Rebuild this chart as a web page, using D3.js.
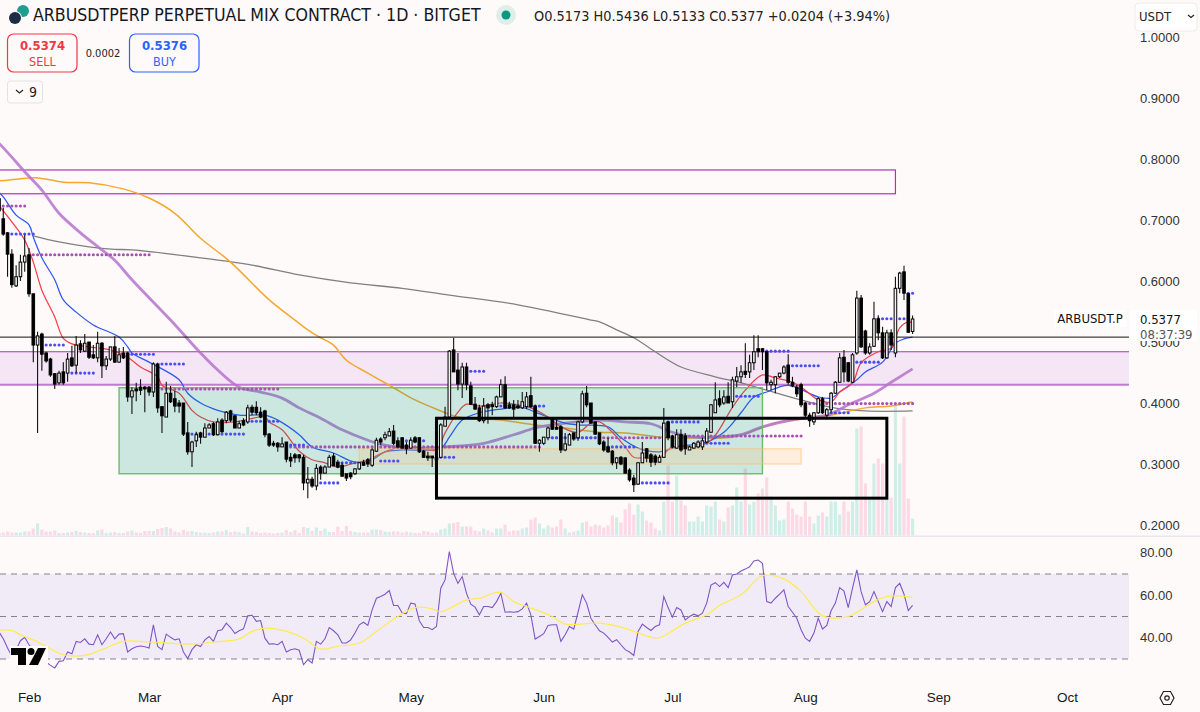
<!DOCTYPE html>
<html>
<head>
<meta charset="utf-8">
<script src="https://cdn.jsdelivr.net/npm/d3@7"></script>
<style>
    html, body { margin: 0; padding: 0; background: #fffafa; overflow: hidden; }
    svg { display: block; font-family: "DejaVu Sans Condensed", "DejaVu Sans", sans-serif; }
</style>
</head>
<body>
<svg id="chart" width="1200" height="712"></svg>
<script>
// daily candles, first one is 25 Jan 2025 (day -7, day 0 = 1 Feb)
const firstDay = -7;
const opens = [
    .735,.702,.679,.644,.592,.607,.631,.643,.579,.495,.513,.482,.472,.448,.433,.451,.449,.474,.462,.497,
    .485,.5,.479,.474,.498,.461,.472,.492,.467,.482,.482,.41,.423,.426,.426,.426,.418,.464,.394,.377,
    .416,.407,.4,.4,.351,.32,.338,.351,.344,.359,.366,.348,.372,.371,.387,.379,.359,.371,.369,.393,
    .393,.385,.387,.349,.334,.334,.328,.336,.311,.315,.315,.311,.269,.275,.264,.295,.285,.295,.313,.303,
    .298,.284,.285,.284,.292,.303,.307,.298,.321,.341,.343,.346,.354,.338,.343,.331,.326,.343,.343,.321,
    .313,.313,.31,.311,.362,.377,.487,.454,.431,.459,.428,.398,.392,.371,.397,.397,.394,.41,.43,.397,
    .397,.395,.392,.394,.412,.395,.334,.334,.343,.374,.36,.361,.323,.331,.351,.343,.369,.416,.4,.369,
    .351,.336,.328,.321,.302,.311,.31,.29,.277,.267,.302,.325,.315,.313,.303,.311,.369,.346,.326,.348,
    .346,.323,.326,.328,.328,.336,.352,.384,.407,.4,.411,.402,.436,.443,.452,.451,.466,.489,.489,.484,
    .43,.43,.443,.449,.462,.434,.426,.43,.4,.38,.369,.384,.407,.38,.389,.416,.434,.475,.466,.434,
    .482,.572,.518,.482,.493,.538,.515,.474,.515,.482,.588,.615,.579,.5173
];
const highs = [
    .74,.72,.68,.652,.626,.643,.676,.654,.579,.517,.515,.484,.474,.449,.453,.467,.482,.494,.51,.503,
    .513,.5,.495,.517,.5,.477,.492,.51,.49,.492,.484,.426,.433,.439,.428,.428,.467,.466,.394,.435,
    .428,.42,.405,.4,.369,.338,.353,.353,.367,.367,.369,.375,.375,.387,.389,.38,.371,.375,.397,.397,
    .403,.393,.389,.351,.338,.336,.344,.336,.318,.318,.316,.315,.295,.279,.3,.298,.298,.315,.318,.307,
    .302,.284,.287,.293,.303,.307,.31,.326,.343,.344,.353,.359,.364,.344,.344,.336,.344,.346,.344,.323,
    .32,.313,.315,.367,.394,.487,.507,.482,.466,.466,.435,.41,.397,.408,.4,.402,.412,.439,.444,.402,
    .405,.405,.418,.418,.443,.397,.341,.344,.361,.375,.375,.364,.351,.351,.351,.371,.42,.428,.4,.369,
    .351,.339,.343,.323,.311,.313,.311,.293,.282,.303,.336,.326,.318,.316,.315,.392,.369,.348,.357,.357,
    .351,.33,.336,.339,.343,.359,.398,.434,.421,.421,.434,.443,.459,.462,.498,.479,.511,.511,.49,.485,
    .438,.444,.449,.462,.48,.443,.43,.433,.402,.384,.385,.41,.41,.392,.418,.436,.482,.487,.467,.482,
    .584,.577,.52,.498,.566,.544,.525,.52,.521,.607,.615,.625,.58,.5436
];
const lows = [
    .70,.674,.607,.589,.59,.6,.615,.574,.467,.351,.453,.466,.443,.423,.43,.43,.435,.459,.449,.482,
    .484,.472,.472,.467,.441,.454,.469,.466,.466,.472,.402,.382,.403,.413,.385,.412,.41,.384,.351,.377,
    .4,.385,.384,.346,.315,.295,.328,.333,.344,.359,.346,.348,.351,.367,.369,.359,.359,.362,.366,.38,
    .38,.375,.344,.328,.328,.32,.328,.303,.295,.302,.303,.257,.244,.261,.257,.274,.285,.295,.297,.293,
    .279,.272,.275,.282,.29,.297,.295,.295,.32,.331,.339,.346,.331,.326,.326,.316,.326,.334,.318,.31,
    .305,.295,.305,.31,.362,.377,.451,.421,.408,.421,.397,.389,.369,.367,.366,.38,.392,.41,.39,.39,
    .377,.39,.39,.39,.392,.333,.32,.331,.339,.356,.357,.318,.321,.331,.338,.338,.367,.393,.367,.348,
    .331,.32,.318,.298,.292,.298,.285,.271,.254,.266,.302,.303,.295,.298,.302,.31,.339,.326,.325,.32,
    .315,.323,.325,.326,.323,.334,.352,.384,.393,.397,.4,.392,.426,.433,.441,.441,.454,.475,.454,.421,
    .421,.416,.441,.447,.43,.426,.41,.393,.377,.361,.364,.382,.382,.375,.384,.415,.433,.434,.434,.433,
    .479,.49,.479,.479,.492,.503,.472,.472,.487,.475,.58,.569,.515,.5133
];
const closes = [
    .715,.677,.644,.594,.607,.631,.641,.579,.495,.51,.48,.469,.446,.431,.449,.433,.472,.461,.495,.487,
    .498,.475,.474,.498,.461,.472,.492,.467,.479,.474,.41,.42,.42,.421,.423,.418,.464,.392,.379,.416,
    .402,.395,.395,.349,.32,.336,.348,.344,.359,.364,.348,.369,.353,.385,.372,.359,.366,.364,.392,.385,
    .384,.377,.348,.331,.331,.328,.333,.308,.305,.31,.31,.269,.275,.264,.293,.285,.295,.311,.297,.295,
    .28,.277,.279,.292,.302,.298,.3,.323,.339,.336,.348,.353,.334,.328,.326,.325,.339,.336,.32,.311,
    .31,.31,.307,.364,.377,.485,.451,.431,.459,.43,.398,.39,.371,.395,.392,.394,.41,.43,.392,.392,
    .39,.392,.402,.41,.394,.334,.339,.344,.359,.357,.357,.323,.333,.348,.341,.369,.415,.397,.367,.349,
    .333,.323,.32,.302,.31,.3,.285,.274,.266,.302,.318,.31,.303,.303,.311,.367,.343,.328,.348,.323,
    .325,.328,.334,.336,.338,.354,.397,.405,.397,.41,.4,.438,.443,.451,.447,.466,.484,.484,.484,.433,
    .434,.443,.449,.459,.434,.428,.415,.397,.38,.371,.384,.407,.384,.389,.416,.434,.474,.451,.436,.479,
    .572,.492,.482,.492,.538,.515,.474,.515,.495,.588,.613,.58,.516,.5377
];
const volumes = [
    3,3,4,3,3,3,4,4,7,12,6,4,4,5,2.5,2.5,3,3.5,4.5,3.5,
    3,2.5,2.5,5,6,2.5,3,3.5,2.5,2.5,4,5,3,2.5,4.5,4.5,4.5,6.5,7.5,8.5,
    7,4,3,5.5,4,4.5,3.5,3,3,2.5,3,4,4,5.5,3.5,4,3.5,2,8.5,4,
    3.5,2.5,3,2.5,2,2.5,3,5.5,3.5,5.5,2.5,8.5,7.5,4.5,8,4.5,7,3.5,3.5,9,
    4.5,9.5,4.5,3.5,3,3,3,6,6,5.5,4,3.5,4,4,3,4,3,2.5,2.5,4.5,
    4,2.5,3,6,7,12,12.5,13.5,9,9,9,5,4,7,5,3,7,7,11,4,
    5,5,7,8,16,18,12,7,10,8,9,16,7,3,4,5,13,14,9,11,
    10,8,10,20,18,13,26,32,21,31,24,15,13,7,5,34,70,34,60,35,
    30,14,14,19,14,30,29,34,16,14,28,30,48,34,67,31,34,42,47,58,
    39,30,15,16,34,27,21,19,34,19,12,20,23,19,34,34,21,34,24,34,
    107,109,52,36,72,77,72,37,38,130,72,119,37,17
];

// moving averages, read at their bends: day number and price
const redDays = [-7,-4,-1,1,3,6,8,10,14,19,23,26,30,31,35,38,40,43,48,55,56,59,63,66,69,72,76,79,83,87,90,95,97,100,102,105,110,114,117,121,124,128,131,133,136,139,141,143,147,150,155,159,164,167,171,174,178,181,184,187,189,192,194,198,201,203,205,206];
const redVals = [.724,.697,.667,.631,.585,.541,.506,.497,.492,.487,.475,.459,.443,.429,.416,.388,.377,.369,.369,.377,.369,.356,.321,.307,.302,.295,.302,.307,.32,.329,.328,.323,.351,.385,.398,.395,.4,.397,.392,.377,.361,.352,.367,.369,.352,.328,.311,.31,.311,.328,.328,.339,.393,.421,.446,.441,.434,.421,.405,.402,.418,.433,.466,.484,.49,.523,.533,.531];
const blueDays = [-7,-6,-3,0,1,3,6,8,11,15,21,23,24,28,35,37,40,44,49,55,58,63,66,71,76,80,83,87,96,98,101,105,110,115,118,125,128,135,138,142,147,151,158,162,166,169,172,177,184,187,189,193,195,199,202,204,206];
const blueVals = [.745,.738,.708,.692,.672,.638,.602,.569,.549,.528,.508,.492,.482,.467,.438,.416,.4,.388,.38,.38,.372,.348,.328,.318,.303,.307,.32,.323,.326,.344,.372,.384,.39,.393,.385,.367,.364,.361,.343,.326,.32,.328,.336,.352,.384,.41,.418,.429,.41,.408,.418,.438,.451,.467,.498,.505,.508];
const purpleDays = [-7,-4,-1,3,7,12,17,20,24,33,40,44,49,54,59,63,68,73,79,83,90,97,106,113,118,122,133,139,145,150,155,159,166,171,180,186,191,197,201,206];
const purpleVals = [.826,.803,.779,.749,.711,.679,.651,.634,.602,.536,.482,.454,.426,.418,.408,.392,.375,.356,.339,.331,.326,.328,.334,.348,.359,.364,.372,.369,.366,.352,.344,.344,.348,.361,.375,.38,.397,.416,.434,.456];
const orangeDays = [-7,-3,2,8,14,22,28,34,40,47,56,62,65,68,71,74,79,85,90,96,100,110,118,125,133,139,149,156,164,168,175,181,187,195,201,206];
const orangeVals = [.764,.767,.769,.762,.761,.751,.736,.711,.67,.631,.569,.536,.52,.507,.495,.47,.449,.425,.405,.387,.377,.372,.364,.359,.352,.351,.343,.343,.344,.352,.369,.374,.38,.392,.395,.402];
const greyDays = [1,7,14,20,24,40,52,63,75,87,98,114,131,133,137,141,146,152,160,166,172,180,187,195,206];
const greyVals = [.674,.664,.656,.652,.651,.638,.626,.61,.597,.588,.577,.561,.536,.533,.52,.507,.484,.459,.443,.433,.421,.405,.393,.387,.387];

// dotted levels: price, first day, last day
const purpleLevels = [.723,.643,.423,.328,.343,.346,.399];
const purpleFrom = [-7,1,31,61,122,154,182];
const purpleTo = [-1,28,58,119,148,180,206];
const blueLevels = [.677,.495,.449,.48,.464,.349,.37,.331,.269,.302,.305,.338,.311,.452,.395,.343,.328,.269,.369,.334,.411,.485,.461,.384,.467,.538,.538,.58];
const blueFrom = [-4,4,10,23,31,38,52,61,68,73,82,88,95,103,110,122,135,142,149,158,165,172,177,187,193,198,203,205];
const blueTo = [1,8,15,29,36,50,58,64,72,76,86,92,99,106,120,133,141,149,156,163,170,177,184,191,198,201,205,206];

// RSI, one value a day
const rsi = [
    42.7,39.5,35.2,31.3,34.4,38.6,40.2,36.7,34.4,33.6,29.7,28.6,27,25.8,28.9,29.2,33.3,32.5,38.3,37.8,
    39.5,37,36.7,41.4,36.7,39.5,42.7,39.5,41.7,41.9,33.3,34.8,35.8,36.1,35.8,35.2,46.1,35.9,34.4,41.7,
    40.2,39,39.5,33.3,30.2,34.4,36.7,35.9,39,40.6,38.3,43.3,43.8,46.9,44.8,42,43.3,44.2,50.3,50.6,
    47.7,48.1,39.8,37,37.2,36.7,38.3,33.3,34.4,34.8,34.1,27.3,29.7,28.1,38.3,37,39.5,44.8,43.3,41.4,
    37.5,37.5,39,42.2,46.1,47.3,45.8,53.1,58.6,59.4,60.5,62.2,55.2,55.2,51.6,51.3,56.3,55.9,48,44.8,
    44.8,43.8,45.3,63.3,67.2,80.5,70.3,65.6,68.8,60.9,55.8,54.4,50.8,54.7,54.7,54.2,57,60.9,52,52.2,
    52,52.3,53.6,56.3,50.8,39.4,40.6,41.9,45.8,46.1,46.1,38.3,41.4,45.3,44.1,52,60.2,56.3,49.2,46.1,
    43.3,42.2,40.2,38,39.1,36.7,34.4,33.3,31.7,43,46.4,44.8,43.4,45.3,46.1,59.4,54.2,49.7,54.2,53.1,
    48.4,50,51.1,50.3,51.6,56.3,64.8,65.9,64.1,66.1,63.6,69.5,70,71.4,72.3,73.4,76.1,76.6,75,57,
    56.3,58.6,60.5,62.5,54.7,52,49.2,43.8,39.8,38.3,42.2,49.2,44.1,45.8,52.7,56.3,63.6,62,54.2,63.3,
    71.9,61.7,55.5,57,61.7,57,52.3,57,54.7,63.6,65.6,60.5,52.8,55.2
];
const rsiMaDays = [-7,-4,-2,2,5,8,13,17,22,28,38,43,49,52,55,60,64,68,72,77,81,86,90,94,96,102,105,110,113,116,122,125,133,138,145,147,153,158,161,166,171,176,180,185,191,193,197,200,203,206];
const rsiMaVals = [43.7,43.4,41.4,38,34.8,32,31.7,34.4,38.3,38,37,38,39.5,43,44.5,43,39.8,34.7,36,37.5,43,50,54.2,53.6,52.3,57.8,58.6,61.4,57,54.7,50,46.4,46.9,45,40.3,40,46.9,50.8,55.2,60.2,69.2,67.7,61.7,50.3,50,52,57,59.4,59.7,58.9];

const priceTicks = [1, .9, .8, .7, .6, .5, .4, .3, .2];
const rsiTicks = [80, 60, 40];
const rsiLevels = [70, 50, 30];
const months = ['2025-02-01','2025-03-01','2025-04-01','2025-05-01','2025-06-01','2025-07-01','2025-08-01','2025-09-01','2025-10-01'];

const dayDate = d => new Date(Date.UTC(2025, 1, 1 + d));
const paneRight = 1129;

const x = d3.scaleUtc().domain([dayDate(0), dayDate(242)]).range([29, 1067]);
const y = d3.scaleLinear().domain([.2, 1]).range([525, 37]);
const yVol = d3.scaleLinear().domain([0, 140]).range([535.5, 395.5]);
const yRsi = d3.scaleLinear().domain([30, 70]).range([659, 574]);

const svg = d3.select('#chart');
svg.append('rect').attr('width', 1200).attr('height', 712).attr('fill', '#fffafa');

svg.append('defs').append('clipPath').attr('id', 'pane')
    .append('rect').attr('x', 0).attr('y', 0).attr('width', paneRight).attr('height', 536);

const days = d3.range(opens.length).map(i => firstDay + i);
const pane = svg.append('g').attr('clip-path', 'url(#pane)');

// volume
pane.append('g').selectAll('rect').data(days).join('rect')
    .attr('x', d => x(dayDate(d)) - 1.6)
    .attr('width', 3.2)
    .attr('y', (d, i) => yVol(volumes[i]))
    .attr('height', (d, i) => yVol(0) - yVol(volumes[i]))
    .attr('fill', (d, i) => closes[i] >= opens[i] ? '#cfeee7' : '#fcd9e5');

function box(parent, d0, d1, p0, p1) {
    return parent.append('rect')
        .attr('x', x(dayDate(d0)))
        .attr('width', x(dayDate(d1)) - x(dayDate(d0)))
        .attr('y', y(p1))
        .attr('height', y(p0) - y(p1));
}

// purple band, open to the right edge
pane.append('rect').attr('x', 0).attr('width', paneRight)
    .attr('y', y(.484)).attr('height', y(.43) - y(.484)).attr('fill', '#f4e6f5');
pane.append('line').attr('x1', 0).attr('x2', paneRight).attr('y1', y(.484)).attr('y2', y(.484))
    .attr('stroke', '#b12fc4').attr('stroke-width', 1.2);
pane.append('line').attr('x1', 0).attr('x2', paneRight).attr('y1', y(.43)).attr('y2', y(.43))
    .attr('stroke', '#c07ad0').attr('stroke-width', 2);

// upper purple box
box(pane, -9, 202.4, .743, .782).attr('fill', 'none').attr('stroke', '#b12fc4').attr('stroke-width', 1.2);

// moving averages
const maLine = d3.line()
    .x(d => x(dayDate(d[0])))
    .y(d => y(d[1]))
    .curve(d3.curveCatmullRom.alpha(.5));

function drawMa(dayList, valList, color, width, alpha) {
    pane.append('path')
        .attr('d', maLine(dayList.map((d, i) => [d, valList[i]])))
        .attr('fill', 'none')
        .attr('stroke', color)
        .attr('stroke-opacity', alpha)
        .attr('stroke-width', width);
}
drawMa(greyDays, greyVals, '#808080', 1.3, 1);
drawMa(orangeDays, orangeVals, '#f7a72e', 1.5, 1);
drawMa(purpleDays, purpleVals, '#b672cc', 2.8, .85);
drawMa(blueDays, blueVals, '#2f55f5', 1.25, 1);
drawMa(redDays, redVals, '#f4404e', 1.25, 1);

// horizontal line
pane.append('line').attr('x1', 0).attr('x2', paneRight).attr('y1', y(.508)).attr('y2', y(.508))
    .attr('stroke', '#111').attr('stroke-width', 1);

// green and yellow boxes sit on the lines
box(pane, 21, 171.1, .284, .425).attr('fill', 'rgba(0,150,120,.2)').attr('stroke', '#6fb96f').attr('stroke-width', 1.4);
box(pane, 77.2, 180.2, .3, .325).attr('fill', 'rgba(255,190,110,.2)').attr('stroke', 'rgba(255,190,110,.5)').attr('stroke-width', 1.4);

// dotted levels
function drawDots(levels, from, to, color) {
    const pts = [];
    levels.forEach((p, i) => d3.range(from[i], to[i] + 1).forEach(d => pts.push([d, p])));
    pane.append('g').selectAll('circle').data(pts).join('circle')
        .attr('cx', d => x(dayDate(d[0])))
        .attr('cy', d => y(d[1]))
        .attr('r', 1.55)
        .attr('fill', color);
}
drawDots(purpleLevels, purpleFrom, purpleTo, '#a950b4');
drawDots(blueLevels, blueFrom, blueTo, '#4a4df5');

// candles
const candles = pane.append('g').selectAll('g').data(days).join('g');
candles.append('line')
    .attr('x1', d => x(dayDate(d))).attr('x2', d => x(dayDate(d)))
    .attr('y1', (d, i) => y(highs[i]))
    .attr('y2', (d, i) => y(lows[i]))
    .attr('stroke', '#111').attr('stroke-width', 1.1);
candles.append('rect')
    .attr('x', d => x(dayDate(d)) - 1.3)
    .attr('width', 2.6)
    .attr('y', (d, i) => y(Math.max(opens[i], closes[i])))
    .attr('height', (d, i) => Math.max(.6, Math.abs(y(opens[i]) - y(closes[i]))))
    .attr('fill', (d, i) => closes[i] >= opens[i] ? '#f2f2f2' : '#000')
    .attr('stroke', '#000').attr('stroke-width', 1);

// black box on top
box(pane, 95.1, 200.3, .244, .375).attr('fill', 'none').attr('stroke', '#000').attr('stroke-width', 3);

// price axis
const yAxis = d3.axisRight(y).tickValues(priceTicks).tickSize(0).tickPadding(0).tickFormat(d3.format('.4f'));
const yG = svg.append('g').attr('transform', 'translate(1140,0)').call(yAxis);
yG.select('.domain').remove();
yG.selectAll('text').attr('font-size', 13).attr('font-family', 'inherit').attr('fill', '#333');

// last price tags
svg.append('rect').attr('x', 1054).attr('y', 310).attr('width', 72).attr('height', 17).attr('fill', '#fff').attr('opacity', .85);
svg.append('text').attr('x', 1090).attr('y', 323).attr('text-anchor', 'middle').attr('font-size', 13).attr('fill', '#111').text('ARBUSDT.P');
svg.append('rect').attr('x', 1130).attr('y', 310).attr('width', 67).attr('height', 31).attr('fill', '#fff');
svg.append('text').attr('x', 1140).attr('y', 324).attr('font-size', 13).attr('fill', '#111').text('0.5377');
svg.append('text').attr('x', 1140).attr('y', 339).attr('font-size', 13).attr('fill', '#555').text('08:37:39');

// pane divider
svg.append('rect').attr('x', 0).attr('y', 535.5).attr('width', 1200).attr('height', 1.5).attr('fill', '#e8e7ee');

// RSI pane
svg.append('rect').attr('x', 0).attr('width', paneRight).attr('y', yRsi(70)).attr('height', yRsi(30) - yRsi(70)).attr('fill', '#f1ebf8');
svg.append('g').selectAll('line').data(rsiLevels).join('line')
    .attr('x1', 0).attr('x2', paneRight)
    .attr('y1', d => yRsi(d)).attr('y2', d => yRsi(d))
    .attr('stroke', '#85808f').attr('stroke-width', 1).attr('stroke-dasharray', '6 5');

svg.append('path')
    .attr('d', d3.line().x(d => x(dayDate(d))).y((d, i) => yRsi(rsi[i]))(days))
    .attr('fill', 'none').attr('stroke', '#7e57c2').attr('stroke-width', 1.1);
svg.append('path')
    .attr('d', d3.line().x(d => x(dayDate(d[0]))).y(d => yRsi(d[1])).curve(d3.curveCatmullRom.alpha(.5))(rsiMaDays.map((d, i) => [d, rsiMaVals[i]])))
    .attr('fill', 'none').attr('stroke', '#ffeb4f').attr('stroke-width', 1.2);

const rAxis = d3.axisRight(yRsi).tickValues(rsiTicks).tickSize(0).tickPadding(0).tickFormat(d3.format('.2f'));
const rG = svg.append('g').attr('transform', 'translate(1140,0)').call(rAxis);
rG.select('.domain').remove();
rG.selectAll('text').attr('font-size', 13).attr('font-family', 'inherit').attr('fill', '#333');

// time axis
const xAxis = d3.axisBottom(x).tickValues(months.map(m => new Date(m))).tickSize(0).tickPadding(0).tickFormat(d3.utcFormat('%b'));
const xG = svg.append('g').attr('transform', 'translate(0,692)').call(xAxis);
xG.select('.domain').remove();
xG.selectAll('text').attr('font-size', 13.5).attr('font-family', 'inherit').attr('fill', '#131722');

// header
svg.append('circle').attr('cx', 23).attr('cy', 11).attr('r', 6).attr('fill', '#1f9e8f');
svg.append('circle').attr('cx', 15).attr('cy', 18).attr('r', 7).attr('fill', '#fffafa');
svg.append('circle').attr('cx', 15).attr('cy', 18).attr('r', 6).attr('fill', '#1b2c46');
svg.append('text').attr('x', 33).attr('y', 21).attr('font-size', 17.6).attr('fill', '#131722').text('ARBUSDTPERP PERPETUAL MIX CONTRACT · 1D · BITGET');
svg.append('circle').attr('cx', 506).attr('cy', 15).attr('r', 10).attr('fill', '#e0eeea');
svg.append('circle').attr('cx', 506).attr('cy', 15).attr('r', 4.5).attr('fill', '#089981');
svg.append('text').attr('x', 534).attr('y', 20.5).attr('font-size', 14.4).attr('fill', '#222').text('O0.5173 H0.5436 L0.5133 C0.5377 +0.0204 (+3.94%)');

function tradeBox(bx, price, label, color) {
    svg.append('rect').attr('x', bx).attr('y', 34).attr('width', 69.5).attr('height', 38).attr('rx', 6)
        .attr('fill', '#fffafa').attr('stroke', color).attr('stroke-width', 1.2);
    svg.append('text').attr('x', bx + 35).attr('y', 50).attr('text-anchor', 'middle').attr('font-size', 13).attr('font-weight', 600).attr('fill', color).text(price);
    svg.append('text').attr('x', bx + 35).attr('y', 66).attr('text-anchor', 'middle').attr('font-size', 12.5).attr('fill', color).text(label);
}
tradeBox(7.5, '0.5374', 'SELL', '#f23645');
tradeBox(129.5, '0.5376', 'BUY', '#2962ff');
svg.append('text').attr('x', 103).attr('y', 57).attr('text-anchor', 'middle').attr('font-size', 11).attr('fill', '#222').text('0.0002');

svg.append('rect').attr('x', 7.5).attr('y', 81).attr('width', 35).attr('height', 22).attr('rx', 3)
    .attr('fill', '#fffafa').attr('stroke', '#e2e2e2').attr('stroke-width', 1);
svg.append('path').attr('d', 'M16 90l3.5 3 3.5-3').attr('fill', 'none').attr('stroke', '#222').attr('stroke-width', 1.2);
svg.append('text').attr('x', 29).attr('y', 97).attr('font-size', 14).attr('fill', '#222').text('9');

svg.append('rect').attr('x', 1135).attr('y', 3).attr('width', 62).attr('height', 28).attr('rx', 4)
    .attr('fill', '#fff').attr('stroke', '#efeaea').attr('stroke-width', 1);
svg.append('text').attr('x', 1139).attr('y', 21).attr('font-size', 13).attr('fill', '#222').text('USDT');
svg.append('path').attr('d', 'M1188 15l3 2.5 3-2.5').attr('fill', 'none').attr('stroke', '#222').attr('stroke-width', 1.2);

// logo bottom left
const logo = svg.append('g').attr('transform', 'translate(11,648)');
logo.append('rect').attr('x', -1).attr('y', -2).attr('width', 38).attr('height', 20).attr('fill', '#fffafa');
logo.append('path').attr('fill', '#000').attr('d', 'M0 0H15V17H7V7H0Z');
logo.append('circle').attr('cx', 20).attr('cy', 3.5).attr('r', 3.5).attr('fill', '#000');
logo.append('path').attr('fill', '#000').attr('d', 'M27 0H35L27 17H18Z');

// settings icon
svg.append('path').attr('d', 'M1160 698l3.5-6.5h7l3.5 6.5-3.5 6.5h-7Z').attr('fill', 'none').attr('stroke', '#222').attr('stroke-width', 1.2);
svg.append('circle').attr('cx', 1167).attr('cy', 698).attr('r', 2.2).attr('fill', 'none').attr('stroke', '#222').attr('stroke-width', 1.2);
</script>
</body>
</html>
